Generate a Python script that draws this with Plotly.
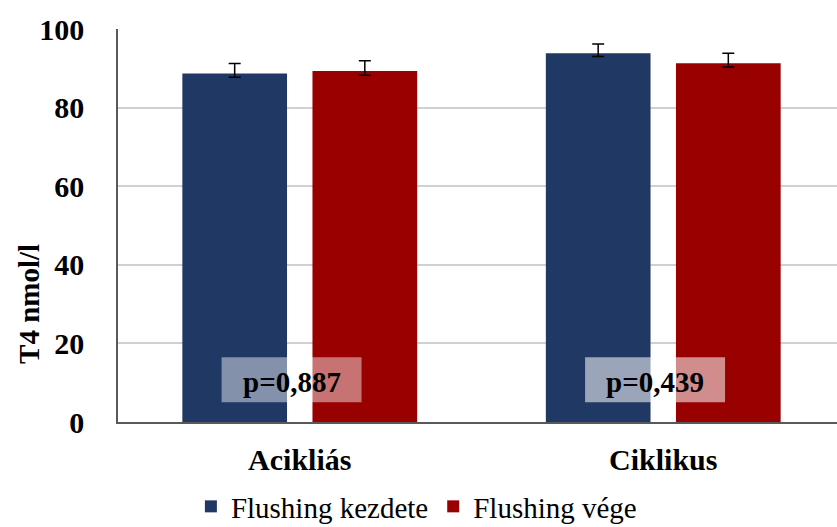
import plotly.graph_objects as go

# Group labels, series and values (T4, nmol/l)
categories = ["Acikliás", "Ciklikus"]
series_names = ["Flushing kezdete", "Flushing vége"]
start_values = [88.7, 93.8]
end_values = [89.3, 91.3]
start_err_plus = [2.5, 2.4]
start_err_minus = [1.0, 0.8]
end_err_plus = [2.6, 2.5]
end_err_minus = [1.1, 1.0]
p_labels = ["p=0,887", "p=0,439"]

BLUE = "#1f3864"
RED = "#990000"
SERIF = "Liberation Serif, Times New Roman, serif"

fig = go.Figure()
fig.add_trace(go.Bar(
    x=categories, y=start_values, name=series_names[0],
    marker=dict(color=BLUE, line=dict(width=0)),
    width=0.288, offset=-0.323,
    error_y=dict(type="data", symmetric=False, array=start_err_plus,
                 arrayminus=start_err_minus, color="black", thickness=1.5, width=6),
))
fig.add_trace(go.Bar(
    x=categories, y=end_values, name=series_names[1],
    marker=dict(color=RED, line=dict(width=0)),
    width=0.288, offset=0.035,
    error_y=dict(type="data", symmetric=False, array=end_err_plus,
                 arrayminus=end_err_minus, color="black", thickness=1.5, width=6),
))

# p-value labels on translucent white boxes
box_opacity = [0.45, 0.55]
for i, (cat, lab) in enumerate(zip(categories, p_labels)):
    fig.add_shape(type="rect", xref="x", yref="y",
                  x0=i - 0.215, x1=i + 0.17, y0=5, y1=16.5,
                  fillcolor="white", opacity=box_opacity[i], line=dict(width=0),
                  layer="above")
    fig.add_annotation(x=i - 0.022, y=10.3, xref="x", yref="y", text=lab,
                       showarrow=False,
                       font=dict(family=SERIF, size=29, color="black", weight="bold"))

# Rotated y-axis title
fig.add_annotation(x=-0.124, y=0.3, xref="paper", yref="paper",
                   text="T4 nmol/l", textangle=-90, showarrow=False,
                   xanchor="center", yanchor="middle",
                   font=dict(family=SERIF, size=29, color="black", weight="bold"))

fig.update_layout(
    width=837, height=527,
    margin=dict(l=118, r=0, t=29, b=105, autoexpand=False),
    barmode="overlay",
    plot_bgcolor="white", paper_bgcolor="white",
    showlegend=True,
    legend=dict(orientation="h", x=0.415, xanchor="center", y=-0.215, yanchor="middle",
                font=dict(family=SERIF, size=29, color="black"),
                itemwidth=30, tracegroupgap=0),
    xaxis=dict(range=[-0.5, 1.478], showgrid=False, showline=True,
               linecolor="#595959", linewidth=1.5, ticks="",
               tickfont=dict(family=SERIF, size=30, color="black", weight="bold"),
               ticklabelstandoff=10, fixedrange=True),
    yaxis=dict(range=[0, 100], tickvals=[0, 20, 40, 60, 80, 100],
               showgrid=True, gridcolor="#d0d0d0", gridwidth=1.5,
               showline=True, linecolor="#595959", linewidth=1.5,
               ticks="", zeroline=False,
               tickfont=dict(family=SERIF, size=30, color="black", weight="bold"),
               ticklabelstandoff=26, fixedrange=True),
)

fig.write_html("out.html")
